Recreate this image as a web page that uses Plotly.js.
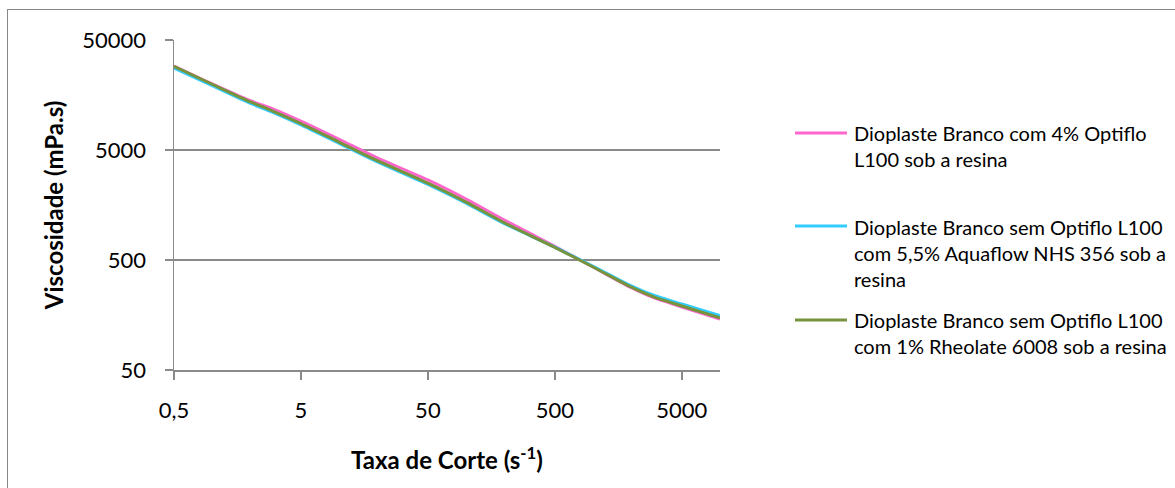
<!DOCTYPE html>
<html>
<head>
<meta charset="utf-8">
<script src="https://cdn.plot.ly/plotly-3.0.1.min.js"></script>
<style>
  html, body { margin: 0; padding: 0; background: #ffffff; overflow: hidden; }
  #wrap { position: relative; width: 1175px; height: 488px; }
  #frame { position: absolute; left: 7px; top: 9px; width: 1200px; height: 520px; border: 1px solid #878787; box-sizing: border-box; pointer-events: none; }
  #chart { position: absolute; left: 0; top: 0; width: 1175px; height: 488px; }
</style>
</head>
<body>
<div id="wrap">
  <div id="chart"></div>
  <div id="frame"></div>
</div>
<script>
// ---- data ----
const shearRate = [0.5, 1, 2, 3, 5, 10, 20, 50, 100, 200, 500, 1000, 2000, 3000, 5000, 10000];
const viscPink  = [29000, 19950, 14020, 11830, 9150, 6250, 4240, 2670, 1790, 1155, 665, 432, 280, 227, 187, 145];
const viscCyan  = [27700, 19260, 13300, 11000, 8460, 5740, 3890, 2430, 1640, 1070, 655, 438, 291, 239, 199, 156];
const viscGreen = [28800, 19800, 13700, 11300, 8700, 5900, 4000, 2500, 1680, 1090, 650, 432, 283, 231, 191, 149];

const seriesNames = [
  ["Dioplaste Branco com 4% Optiflo", "L100 sob a resina"],
  ["Dioplaste Branco sem Optiflo L100", "com 5,5% Aquaflow NHS 356 sob a", "resina"],
  ["Dioplaste Branco sem Optiflo L100", "com 1% Rheolate 6008 sob a resina"]
];
const xTickVals = [0.5, 5, 50, 500, 5000];
const xTickText = ["0,5", "5", "50", "500", "5000"];
const yTickVals = [50, 500, 5000, 50000];
const yTickText = ["50", "500", "5000", "50000"];

// ---- styling ----
const colors = ["#FF66CC", "#33CCFF", "#77933C"];
const FONT = "Lato, 'Open Sans', sans-serif";
const W = 1175, H = 488;
const M = {l: 174, r: 455, t: 40, b: 118};
const pw = W - M.l - M.r, ph = H - M.t - M.b;
const px2x = p => (p - M.l) / pw;
const py2y = p => (H - M.b - p) / ph;

const ys = [viscPink, viscCyan, viscGreen];
const traces = ys.map((y, i) => ({
  type: "scatter",
  mode: "lines",
  x: shearRate,
  y: y,
  name: seriesNames[i].join(" "),
  line: {color: colors[i], width: 3, shape: "spline", smoothing: 0.8},
  showlegend: false,
  hoverinfo: "x+y+name"
}));

// manual legend (Excel-like layout)
const legendSymbolY = [133, 226, 320];
const legendRowsY = [[133, 159], [227, 253, 279], [320, 346]];
const shapes = [];
const annotations = [];
legendSymbolY.forEach((py, i) => {
  shapes.push({type: "line", xref: "paper", yref: "paper",
    x0: px2x(795), x1: px2x(847), y0: py2y(py), y1: py2y(py),
    line: {color: colors[i], width: 3}});
  seriesNames[i].forEach((txt, j) => {
    annotations.push({xref: "paper", yref: "paper", x: px2x(852), y: py2y(legendRowsY[i][j]),
      xanchor: "left", yanchor: "middle", showarrow: false, text: txt,
      font: {family: FONT, size: 20, color: "#000000"}});
  });
});

const layout = {
  width: W, height: H,
  margin: M,
  paper_bgcolor: "#ffffff",
  plot_bgcolor: "#ffffff",
  font: {family: FONT, color: "#000000"},
  showlegend: false,
  xaxis: {
    type: "log",
    range: [Math.log10(0.5), Math.log10(10000)],
    tickvals: xTickVals, ticktext: xTickText,
    ticks: "outside", ticklen: 8, tickwidth: 1.5, tickcolor: "#8a8a8a",
    showline: true, linecolor: "#8a8a8a", linewidth: 1.5,
    showgrid: false, zeroline: false,
    tickfont: {family: FONT, size: 22, color: "#000000"},
    ticklabelstandoff: 12,
    title: {text: "<b>Taxa de Corte (s<sup>-1</sup>)</b>", font: {family: FONT, size: 24, color: "#000000"}, standoff: 30}
  },
  yaxis: {
    type: "log",
    range: [Math.log10(50), Math.log10(50000)],
    tickvals: yTickVals, ticktext: yTickText,
    ticks: "outside", ticklen: 8, tickwidth: 1.5, tickcolor: "#8a8a8a",
    showline: true, linecolor: "#8a8a8a", linewidth: 1.5,
    showgrid: true, gridcolor: "#8a8a8a", gridwidth: 1.5, zeroline: false,
    tickfont: {family: FONT, size: 22, color: "#000000"},
    ticklabelstandoff: 14,
    title: {text: "<b>Viscosidade (mPa.s)</b>", font: {family: FONT, size: 24, color: "#000000"}, standoff: 12}
  },
  shapes: shapes,
  annotations: annotations
};

Plotly.newPlot("chart", traces, layout, {displayModeBar: false, responsive: false, staticPlot: true});
</script>
</body>
</html>
